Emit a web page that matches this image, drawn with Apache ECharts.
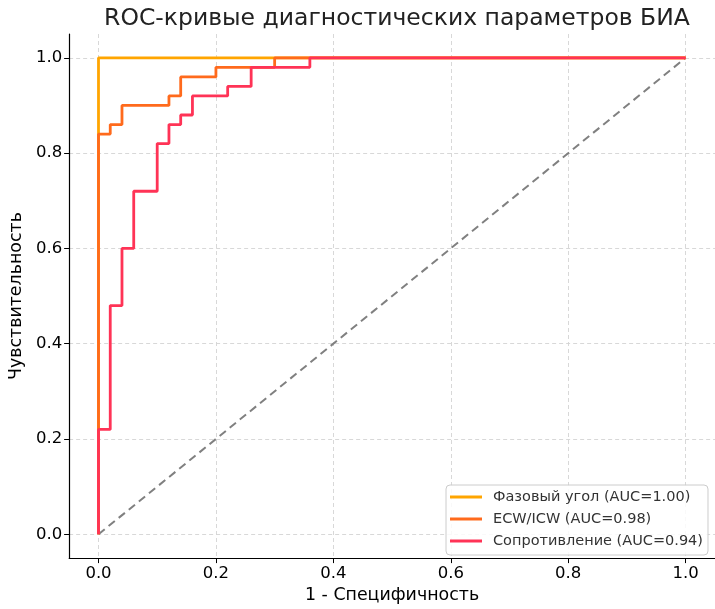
<!DOCTYPE html>
<html>
<head>
<meta charset="utf-8">
<script src="https://cdn.jsdelivr.net/npm/echarts@6/dist/echarts.min.js"></script>
<style>
html,body{margin:0;padding:0;background:#fff;}
#chart{width:715px;height:609px;}
</style>
</head>
<body>
<div id="chart"></div>
<script>
const titleText = 'ROC-кривые диагностических параметров БИА';
const xAxisName = '1 - Специфичность';
const yAxisName = 'Чувствительность';
const tickValues = [0, 0.2, 0.4, 0.6, 0.8, 1.0];

const phaseName = 'Фазовый угол (AUC=1.00)';
const phaseFpr = [0, 0, 1];
const phaseTpr = [0, 1, 1];

const ecwName = 'ECW/ICW (AUC=0.98)';
const ecwFpr = [0, 0, 0.02, 0.02, 0.04, 0.04, 0.12, 0.12, 0.14, 0.14, 0.20, 0.20, 0.30, 0.30, 1];
const ecwTpr = [0, 0.84, 0.84, 0.86, 0.86, 0.90, 0.90, 0.92, 0.92, 0.96, 0.96, 0.98, 0.98, 1.0, 1.0];

const resName = 'Сопротивление (AUC=0.94)';
const resFpr = [0, 0, 0.02, 0.02, 0.04, 0.04, 0.06, 0.06, 0.10, 0.10, 0.12, 0.12, 0.14, 0.14, 0.16, 0.16, 0.22, 0.22, 0.26, 0.26, 0.36, 0.36, 1];
const resTpr = [0, 0.22, 0.22, 0.48, 0.48, 0.60, 0.60, 0.72, 0.72, 0.82, 0.82, 0.86, 0.86, 0.88, 0.88, 0.92, 0.92, 0.94, 0.94, 0.98, 0.98, 1.0, 1.0];

const diagX = [0, 1];
const diagY = [0, 1];

const zip = (a, b) => a.map((v, i) => [v, b[i]]);
const font = 'DejaVu Sans';

const chart = echarts.init(document.getElementById('chart'), null, {renderer: 'canvas'});

const axisCommon = {
  type: 'value',
  min: -0.05,
  max: 1.05,
  axisLine: {show: true, onZero: false, lineStyle: {color: '#000', width: 1.2}},
  axisTick: {show: true, inside: false, length: 5, customValues: tickValues, lineStyle: {color: '#000', width: 1}},
  axisLabel: {customValues: tickValues, formatter: v => v.toFixed(1), color: '#000', fontFamily: font, fontSize: 16.5, margin: 7},
  splitLine: {show: true, lineStyle: {color: '#d4d4d4', type: [4, 3], width: 0.9}},
  nameLocation: 'middle',
  nameTextStyle: {fontFamily: font, fontSize: 17.4, color: '#000'}
};

chart.setOption({
  backgroundColor: '#fff',
  animation: false,
  title: {
    text: titleText,
    left: 392, textAlign: 'center',
    top: 2,
    textStyle: {fontFamily: font, fontSize: 23.5, fontWeight: 'normal', color: '#222'}
  },
  grid: {left: 68, top: 34, right: -2, bottom: 47, containLabel: false},
  xAxis: Object.assign({}, axisCommon, {name: xAxisName, nameGap: 28}),
  yAxis: Object.assign({}, axisCommon, {name: yAxisName, nameGap: 36}),
  legend: {
    orient: 'vertical',
    left: 446, top: 485,
    data: [phaseName, ecwName, resName],
    icon: 'rect',
    itemWidth: 32, itemHeight: 3,
    itemGap: 6,
    padding: [4, 5, 6, 4],
    backgroundColor: 'rgba(255,255,255,0.85)',
    borderColor: '#cccccc', borderWidth: 1, borderRadius: 4,
    textStyle: {fontFamily: font, fontSize: 14.5, lineHeight: 16, color: '#333', padding: [0, 0, 0, 6]}
  },
  series: [
    {name: 'diag', type: 'line', data: zip(diagX, diagY), showSymbol: false, silent: true,
     lineStyle: {color: '#808080', width: 2, type: [8, 5]}, z: 1},
    {name: phaseName, type: 'line', data: zip(phaseFpr, phaseTpr), showSymbol: false,
     itemStyle: {color: '#FFA500'}, lineStyle: {color: '#FFA500', width: 2.8}, z: 2},
    {name: ecwName, type: 'line', data: zip(ecwFpr, ecwTpr), showSymbol: false,
     itemStyle: {color: '#FF6A1C'}, lineStyle: {color: '#FF6A1C', width: 2.8}, z: 3},
    {name: resName, type: 'line', data: zip(resFpr, resTpr), showSymbol: false,
     itemStyle: {color: '#FF3356'}, lineStyle: {color: '#FF3356', width: 2.8}, z: 4}
  ]
});
</script>
</body>
</html>
